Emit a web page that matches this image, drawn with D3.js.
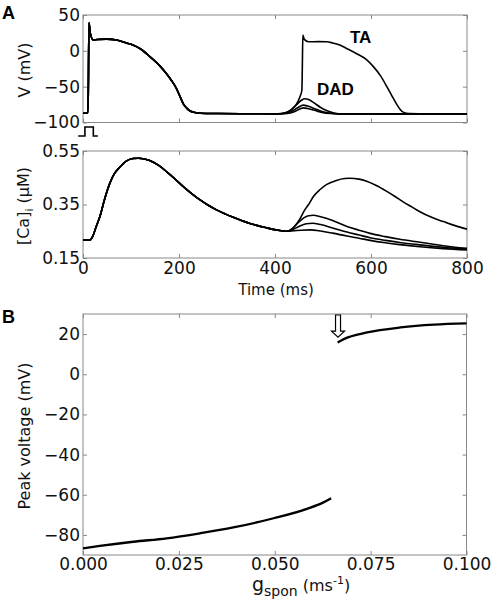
<!DOCTYPE html>
<html><head><meta charset="utf-8">
<script src="https://cdn.jsdelivr.net/npm/d3@7"></script>
<style>body{margin:0;background:#fff}svg{display:block}</style>
</head><body>
<svg id="c" width="492" height="601"></svg>
<script>
// ---------- Data ----------
// Panel A, membrane voltage: common first action potential (t ms, V mV)
const vCommonT = [0,10,11,12.5,15,21.5,30,49,70,90,104,120,140,160,174,185,195,203,209,216,223,233,244,280,350,405];
const vCommonV = [-87,-87,-60,39,25,15,15.8,16.3,15,11,8,2.5,-8.5,-21,-32,-42,-53,-65,-74,-80,-84,-86,-87,-87.5,-87.8,-88];
// triggered activity branch
const vTAT = [420,435,445,452,456,457,458,461,470,490,508,520,535,550,570,590,605,620,633,643,653,660,667,680,720,800];
const vTAV = [-86.5,-82,-74,-64,-55,-20,22,16,12.6,12.8,12.6,11,8,3,-4,-12,-22,-35,-50,-62,-74,-81,-85.5,-87.5,-88,-88];
// delayed afterdepolarization branches
const vDad1T = [417,430,445,455,462,470,480,495,510,525,540,800];
const vDad1V = [-87.5,-84,-75,-69,-66.8,-68,-72,-79,-84,-87,-88,-88];
const vDad2T = [420,435,448,459,468,480,495,510,530,800];
const vDad2V = [-87.5,-84.5,-79,-75.8,-77,-80,-84,-86.5,-88,-88];
const vDad3T = [425,440,452,459,468,482,498,515,535,800];
const vDad3V = [-87.5,-85,-81,-79.6,-80.5,-83,-86,-87.5,-88,-88];
// stimulus pulse (t ms, on/off)
const stimT = [-10,4,4,21.5,21.5,31];
const stimOn = [0,0,1,1,0,0];

// Panel A, intracellular calcium (t ms, [Ca]i uM)
const caCommonT = [0,14,20,28,35,45,56,66,77,90,104,115,130,140,157,174,192,209,227,244,261,278,296,313,330,348,362,380,396,410,424];
const caCommonC = [0.217,0.217,0.23,0.27,0.304,0.37,0.43,0.467,0.49,0.512,0.522,0.523,0.519,0.514,0.497,0.473,0.445,0.417,0.39,0.367,0.347,0.33,0.315,0.302,0.29,0.279,0.272,0.264,0.257,0.253,0.25];
const caTAT = [432,440,450,462,470,480,494,508,528,545,556,575,591,610,632,650,667,685,702,725,751,775,800];
const caTAC = [0.255,0.267,0.29,0.33,0.35,0.38,0.406,0.425,0.44,0.447,0.448,0.445,0.437,0.422,0.4,0.38,0.36,0.341,0.323,0.303,0.286,0.271,0.258];
const caDad1T = [435,447,460,470,480,495,520,550,575,598,630,660,702,750,800];
const caDad1C = [0.258,0.28,0.3,0.308,0.31,0.304,0.29,0.268,0.254,0.242,0.23,0.22,0.209,0.196,0.186];
const caDad2T = [437,450,465,478,495,520,550,575,598,630,660,702,750,800];
const caDad2C = [0.256,0.268,0.278,0.28,0.275,0.262,0.247,0.236,0.226,0.216,0.208,0.199,0.19,0.183];
const caDad3T = [440,455,473,495,520,550,575,598,630,660,702,750,800];
const caDad3C = [0.252,0.254,0.255,0.251,0.243,0.232,0.224,0.216,0.207,0.2,0.192,0.185,0.18];

// Panel B, peak voltage vs g_spon
const gLow = [0,0.0044,0.0131,0.0218,0.0305,0.0392,0.0497,0.0584,0.0627,0.0647];
const peakLow = [-86.7,-85.5,-83.4,-81.7,-79.2,-76.3,-71.7,-67,-63.8,-61.7];
const gHigh = [0.0664,0.068,0.0741,0.0828,0.0915,0.1];
const peakHigh = [15.8,17.5,20.8,23.3,24.7,25.3];
const arrowG = 0.0665, arrowFromV = 29.5, arrowToV = 18.5;

// tick values
const vTicks = [-100,-50,0,50];
const caTicks = [0.15,0.35,0.55];
const timeTicks = [0,200,400,600,800];
const peakTicks = [-80,-60,-40,-20,0,20];
const gTicks = [0,0.025,0.05,0.075,0.1];

// ---------- Drawing ----------
const svg = d3.select("#c");
svg.append("rect").attr("width",492).attr("height",601).attr("fill","#fff");
const frameCol = "#888", tickFont = "DejaVu Sans, sans-serif";
const zip = (a,b) => a.map((d,i)=>[d,b[i]]);

function frame(g, x, y, xt, yt, xlab, ylabFmt, xFmt, xPad) {
  const [x0,x1] = x.range(), [y0,y1] = y.range();
  g.append("rect").attr("x",x0).attr("y",y1).attr("width",x1-x0).attr("height",y0-y1)
    .attr("fill","none").attr("stroke",frameCol).attr("stroke-width",1);
  const L = g.append("g").attr("transform",`translate(${x0},0)`)
    .call(d3.axisLeft(y).tickValues(yt).tickSize(-4).tickPadding(3).tickFormat(ylabFmt));
  const R = g.append("g").attr("transform",`translate(${x1},0)`)
    .call(d3.axisRight(y).tickValues(yt).tickSize(-4).tickFormat(""));
  const B = g.append("g").attr("transform",`translate(0,${y0})`)
    .call(d3.axisBottom(x).tickValues(xt).tickSize(-4).tickPadding(xPad || 5).tickFormat(xlab ? xFmt : ""));
  const T = g.append("g").attr("transform",`translate(0,${y1})`)
    .call(d3.axisTop(x).tickValues(xt).tickSize(-4).tickFormat(""));
  [L,R,B,T].forEach(a=>{
    a.select(".domain").remove();
    a.selectAll("line").attr("stroke",frameCol);
    a.selectAll("text").attr("font-family",tickFont).attr("font-size",17).attr("fill","#111");
  });
}

// Panel A top: voltage
const xT = d3.scaleLinear().domain([0,800]).range([83,467]);
const yV = d3.scaleLinear().domain([-100,50]).range([122.5,15]);
const gA1 = svg.append("g");
frame(gA1, xT, yV, timeTicks, vTicks, false, d3.format("d"));
const lineV = d3.line().x(d=>xT(d[0])).y(d=>yV(d[1])).curve(d3.curveMonotoneX);
const common = zip(vCommonT, vCommonV);
const traceStyle = s => s.attr("fill","none").attr("stroke","#000").attr("stroke-width",1.6).attr("stroke-linejoin","round");
[[vDad3T,vDad3V],[vDad2T,vDad2V],[vDad1T,vDad1V],[vTAT,vTAV]].forEach(([t,v])=>{
  gA1.append("path").datum(common.concat(zip(t,v))).attr("d",lineV).call(traceStyle);
});
gA1.append("text").attr("x",350).attr("y",42.5).text("TA")
  .attr("font-family","Liberation Sans, Arial, sans-serif").attr("font-weight","bold").attr("font-size",17);
gA1.append("text").attr("x",317).attr("y",95).text("DAD")
  .attr("font-family","Liberation Sans, Arial, sans-serif").attr("font-weight","bold").attr("font-size",17);
// stimulus
const yStim = d3.scaleLinear().domain([0,1]).range([136,127]);
gA1.append("path").datum(zip(stimT, stimOn))
  .attr("d", d3.line().x(d=>xT(d[0])).y(d=>yStim(d[1])))
  .attr("fill","none").attr("stroke","#000").attr("stroke-width",1.6);

// Panel A bottom: calcium
const yCa = d3.scaleLinear().domain([0.15,0.55]).range([258,151]);
const gA2 = svg.append("g");
frame(gA2, xT, yCa, timeTicks, caTicks, true, d3.format(".2f"), d3.format("d"), 4);
const lineCa = d3.line().x(d=>xT(d[0])).y(d=>yCa(d[1])).curve(d3.curveMonotoneX);
const caCommon = zip(caCommonT, caCommonC);
[[caDad3T,caDad3C],[caDad2T,caDad2C],[caDad1T,caDad1C],[caTAT,caTAC]].forEach(([t,c])=>{
  gA2.append("path").datum(caCommon.concat(zip(t,c))).attr("d",lineCa).call(traceStyle);
});
gA2.append("text").attr("x",276).attr("y",295).attr("text-anchor","middle")
  .attr("font-family",tickFont).attr("font-size",15).attr("fill","#111").text("Time (ms)");

// Panel B
const xG = d3.scaleLinear().domain([0,0.1]).range([83,466.5]);
const yP = d3.scaleLinear().domain([-90,30]).range([555,314]);
const gB = svg.append("g");
frame(gB, xG, yP, gTicks, peakTicks, true, d3.format("d"), d3.format(".3f"), 3);
const lineP = d3.line().x(d=>xG(d[0])).y(d=>yP(d[1])).curve(d3.curveMonotoneX);
gB.append("path").datum(zip(gLow,peakLow)).attr("d",lineP).attr("fill","none").attr("stroke","#000").attr("stroke-width",2.3);
gB.append("path").datum(zip(gHigh,peakHigh)).attr("d",lineP).attr("fill","none").attr("stroke","#000").attr("stroke-width",2.3);
// arrow
{
  const ax = xG(arrowG), ay0 = yP(arrowFromV), ay1 = yP(arrowToV);
  const hw = 2.5, hh = 6.5, headH = 6;
  const pts = [[ax-hw,ay0],[ax+hw,ay0],[ax+hw,ay1-headH],[ax+hh,ay1-headH],[ax,ay1],[ax-hh,ay1-headH],[ax-hw,ay1-headH]];
  gB.append("path").attr("d", d3.line()(pts)+"Z").attr("fill","#fff").attr("stroke","#000").attr("stroke-width",1.2);
}
// x label with sub/superscript
{
  const t = gB.append("text").attr("x",252).attr("y",591).attr("font-family",tickFont).attr("fill","#111").attr("font-size",16);
  t.append("tspan").attr("font-size",19).text("g");
  t.append("tspan").attr("font-size",14).attr("dy",5).text("spon");
  t.append("tspan").attr("font-size",16).attr("dy",-5).text(" (ms");
  t.append("tspan").attr("font-size",11).attr("dy",-7).text("-1");
  t.append("tspan").attr("font-size",16).attr("dy",7).text(")");
}

// Y axis labels
function ylab(txt, cy, bx) {
  return svg.append("text").attr("transform",`translate(${bx},${cy}) rotate(-90)`)
    .attr("text-anchor","middle").attr("font-family",tickFont).attr("font-size",16).attr("fill","#111").text(txt);
}
ylab("V (mV)", 70, 30);
{
  const t = svg.append("text").attr("transform",`translate(29,206) rotate(-90)`)
    .attr("text-anchor","middle").attr("font-family",tickFont).attr("font-size",16).attr("fill","#111");
  t.append("tspan").text("[Ca]");
  t.append("tspan").attr("font-size",11).attr("dy",4).text("i");
  t.append("tspan").attr("dy",-4).text(" (μM)");
}
ylab("Peak voltage (mV)", 436, 30);

// panel letters
svg.append("text").attr("x",2).attr("y",18.5).text("A")
  .attr("font-family","Liberation Sans, Arial, sans-serif").attr("font-weight","bold").attr("font-size",18);
svg.append("text").attr("x",2).attr("y",322.5).text("B")
  .attr("font-family","Liberation Sans, Arial, sans-serif").attr("font-weight","bold").attr("font-size",18);
</script>
</body></html>
